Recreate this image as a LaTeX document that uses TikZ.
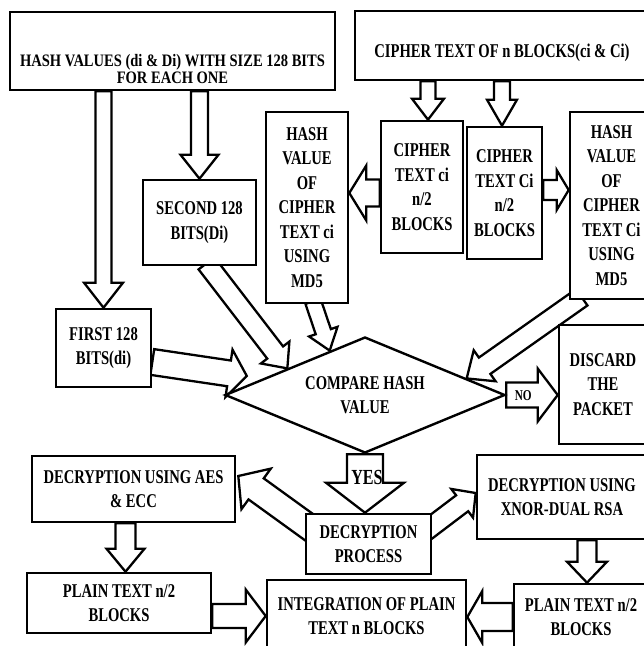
\documentclass[tikz,border=0pt]{standalone}
\usepackage{fontspec}
\setmainfont{Liberation Serif}[FakeStretch=0.75]
\newfontfamily\titlefam{Liberation Serif}[FakeStretch=0.83]
\usetikzlibrary{calc,shapes.geometric,backgrounds}

\newcommand\boxfont{\fontsize{19.5pt}{24.5pt}\selectfont\bfseries}
\newcommand\titlefont{\titlefam\fontsize{17.5pt}{17pt}\selectfont\bfseries}

% hollow block arrow: from, tip, shaft half width, head half width, head length
\newcommand\fatarrow[5]{%
  \coordinate (fah) at ($(#2)!#5!(#1)$);
  \draw[blockarrow] ($(#1)!#3!90:(#2)$) -- ($(fah)!#3!90:(#2)$) -- ($(fah)!#4!90:(#2)$)
    -- (#2) -- ($(fah)!#4!-90:(#2)$) -- ($(fah)!#3!-90:(#2)$) -- ($(#1)!#3!-90:(#2)$) -- cycle;}

\tikzset{
  box/.style={draw, line width=2.6pt, fill=white, align=center, inner sep=0pt,
    font=\boxfont, minimum width=#1},
  blockarrow/.style={draw, line width=2.3pt, fill=white, line join=miter},
  decision/.style={draw, line width=2.4pt, fill=white, shape=diamond, shape aspect=2.4,
    inner sep=0pt, align=center, font=\boxfont, minimum width=280pt, minimum height=116pt},
  tag/.style={inner sep=0pt, font=#1\bfseries}
}

\begin{document}
\begin{tikzpicture}[x=1pt,y=-1pt]
\useasboundingbox (0,0) rectangle (644,646);
\begin{pgfonlayer}{background}
  \fill[white] (0,0) rectangle (644,646);
\end{pgfonlayer}
\clip (0,0) rectangle (644,646);

% ---- boxes ----
\node[box=325pt, minimum height=78pt,
  label={[name=hvtext, font=\titlefont, align=center, yshift=-18pt]center:{HASH VALUES (di \& Di) WITH SIZE 128 BITS\\FOR EACH ONE}}]
  (hv) at (172.5,51) {};
\node[box=294pt, minimum height=69pt,
  label={[name=cttext, font=\boxfont, align=center, yshift=-7.5pt]center:{CIPHER TEXT OF n BLOCKS(ci \& Ci)}}]
  (ct) at (502,45.5) {};
\node[box=113pt, minimum height=85pt] (second) at (199.5,222.5) {SECOND 128\\BITS(Di)};
\node[box=82pt, minimum height=191pt] (hci) at (307,207.5) {HASH\\VALUE\\OF\\CIPHER\\TEXT ci\\USING\\MD5};
\node[box=82pt, minimum height=132pt] (ci) at (422,187) {CIPHER\\TEXT ci\\n/2\\BLOCKS};
\node[box=75pt, minimum height=132pt] (Ci) at (504.5,193) {CIPHER\\TEXT Ci\\n/2\\BLOCKS};
\node[box=83pt, minimum height=187pt] (hCi) at (611.5,205.5) {HASH\\VALUE\\OF\\CIPHER\\TEXT Ci\\USING\\MD5};
\node[box=95pt, minimum height=78pt] (first) at (103.5,348) {FIRST 128\\BITS(di)};
\node[decision] (cmp) at (365,395) {COMPARE HASH\\VALUE};
\node[box=88pt, minimum height=119pt] (discard) at (603,384.5) {DISCARD\\THE\\PACKET};
\node[box=203pt, minimum height=66pt] (aes) at (133.5,489) {DECRYPTION USING AES\\\& ECC};
\node[box=125pt, minimum height=60pt] (dp) at (368.5,544) {DECRYPTION\\PROCESS};
\node[box=170pt, minimum height=84pt] (xnor) at (562,497) {DECRYPTION USING\\XNOR-DUAL RSA};
\node[box=184pt, minimum height=60pt] (plainl) at (119,603) {PLAIN TEXT n/2\\BLOCKS};
\node[box=199pt, minimum height=72pt] (int) at (366.5,616) {INTEGRATION OF PLAIN\\TEXT n BLOCKS};
\node[box=134pt, minimum height=66pt] (plainr) at (581,617) {PLAIN TEXT n/2\\BLOCKS};

% ---- arrow end points ----
\coordinate (a1s) at (hv.south -| first.north);
\coordinate (a2s) at (hv.south -| second.north);
\coordinate (a3e) at ($(ci.north)+(6,0)$);
\coordinate (a3s) at (ct.south -| a3e);
\coordinate (a4e) at ($(Ci.north)+(-2.5,0)$);
\coordinate (a4s) at (ct.south -| a4e);
\coordinate (a5s) at ($(ci.west)+(0,6)$);
\coordinate (a5e) at (hci.east |- a5s);
\coordinate (a6s) at ($(Ci.east)+(0,-3)$);
\coordinate (a6e) at (hCi.west |- a6s);
\coordinate (a7s) at ($(second.south)+(7,-3)$);
\coordinate (a7e) at ($(cmp.west)!0.45!(cmp.north)$);
\coordinate (a8s) at ($(hci.south)+(6,-3)$);
\coordinate (a8e) at ($(cmp.west)!0.75!(cmp.north)$);
\coordinate (a9s) at ($(hCi.south west)+(13,-3)$);
\coordinate (a9e) at ($(cmp.north)!0.72!(cmp.east)$);
\coordinate (a10s) at ($(first.east)+(0,14)$);
\coordinate (a10e) at ($(cmp.west)+(23,-19)$);
\coordinate (a11e) at (discard.west |- cmp.east);
\coordinate (a12e) at (dp.north -| cmp.south);
\coordinate (a13s) at ($(dp.north west)+(12,20)$);
\coordinate (a13e) at ($(aes.east)+(2,-13)$);
\coordinate (a14s) at ($(dp.north east)+(-9,20)$);
\coordinate (a14e) at ($(xnor.west)+(0,-4)$);
\coordinate (a15s) at ($(aes.south)+(-8,0)$);
\coordinate (a15e) at (plainl.north -| a15s);
\coordinate (a16s) at ($(plainl.east)+(0,13)$);
\coordinate (a16e) at (int.west |- a16s);
\coordinate (a17s) at ($(xnor.south)+(25,0)$);
\coordinate (a17e) at (plainr.north -| a17s);
\coordinate (a18s) at (plainr.west);
\coordinate (a18e) at (int.east |- a18s);

% ---- block arrows, kept under the boxes ----
\begin{pgfonlayer}{background}
  \fatarrow{a1s}{first.north}{8pt}{19.5pt}{25pt}
  \fatarrow{a2s}{second.north}{8.5pt}{19pt}{24pt}
  \fatarrow{a3s}{a3e}{7.5pt}{16pt}{21pt}
  \fatarrow{a4s}{a4e}{8pt}{15pt}{26pt}
  \fatarrow{a5s}{a5e}{13.5pt}{27.5pt}{17pt}
  \fatarrow{a6s}{a6e}{10pt}{20pt}{12pt}
  \fatarrow{a7s}{a7e}{10pt}{18pt}{20pt}
  \fatarrow{a8s}{a8e}{8pt}{15pt}{20pt}
  \fatarrow{a9s}{a9e}{10pt}{19pt}{22pt}
  \fatarrow{a10s}{a10e}{13pt}{24pt}{18pt}
  \fatarrow{cmp.east}{a11e}{12.5pt}{26.5pt}{20pt}
  \fatarrow{cmp.south}{a12e}{18pt}{39pt}{30pt}
  \fatarrow{a13s}{a13e}{13pt}{25pt}{22pt}
  \fatarrow{a14s}{a14e}{10pt}{18pt}{17pt}
  \fatarrow{a15s}{a15e}{10pt}{19pt}{23pt}
  \fatarrow{a16s}{a16e}{12pt}{26.5pt}{20pt}
  \fatarrow{a17s}{a17e}{9.5pt}{20pt}{21pt}
  \fatarrow{a18s}{a18e}{14pt}{26pt}{15pt}
\end{pgfonlayer}

% ---- labels inside the decision arrows ----
\node[tag=\fontsize{15pt}{15pt}\selectfont] (nolabel) at ($(cmp.east)+(17,1)$) {NO};
\node[tag=\fontsize{21.5pt}{21.5pt}\selectfont] (yeslabel) at ($(cmp.south)+(2,23)$) {YES};
\end{tikzpicture}
\end{document}
